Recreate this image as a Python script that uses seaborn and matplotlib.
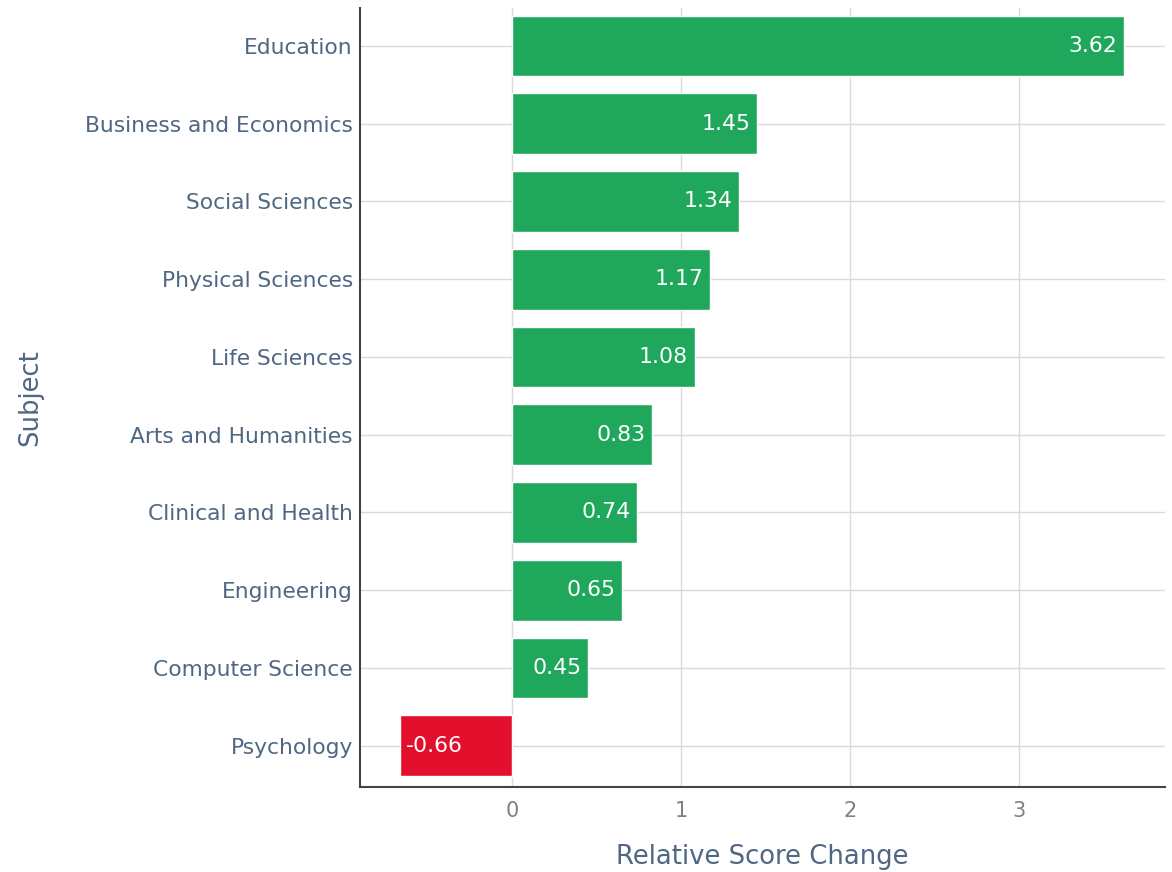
import numpy as np
import matplotlib.pyplot as plt
import pandas as pd
import seaborn as sns

subjects = ["Education", "Business and Economics", "Social Sciences", "Physical Sciences",
            "Life Sciences", "Arts and Humanities", "Clinical and Health", "Engineering",
            "Computer Science", "Psychology"]
changes = [3.62, 1.45, 1.34, 1.17, 1.08, 0.83, 0.74, 0.65, 0.45, -0.66]

df = pd.DataFrame({"Subject": subjects, "Relative Score Change": changes})
df["sign"] = np.where(df["Relative Score Change"] >= 0, "pos", "neg")

sns.set_style("white")
plt.rcParams["font.family"] = ["DejaVu Sans"]

fig = plt.figure(figsize=(11.72, 8.72), dpi=100)
ax = fig.add_axes([0.307, 0.0975, 0.687, 0.8935])

sns.barplot(data=df, x="Relative Score Change", y="Subject", hue="sign",
            palette={"pos": "#1fa85c", "neg": "#e2102c"}, orient="h", saturation=1,
            width=0.78, dodge=False, legend=False, ax=ax, zorder=3)

# value labels inside the end of each bar
for i, v in enumerate(changes):
    if v >= 0:
        ax.text(v - 0.04, i, f"{v:.2f}", ha="right", va="center", color="white", fontsize=15.8, zorder=4)
    else:
        ax.text(v + 0.03, i, f"{v:.2f}", ha="left", va="center", color="white", fontsize=15.8, zorder=4)

ax.set_xlim(-0.9, 3.86)
ax.set_ylim(9.53, -0.49)
ax.set_xticks([0, 1, 2, 3])
ax.grid(True, color="#dadada", linewidth=1, zorder=0)
ax.set_axisbelow(True)

for s in ["top", "right"]:
    ax.spines[s].set_visible(False)
for s in ["left", "bottom"]:
    ax.spines[s].set_color("#444444")
    ax.spines[s].set_linewidth(1.5)

ax.tick_params(axis="y", length=0, pad=5, labelsize=15.7, labelcolor="#506784")
ax.tick_params(axis="x", length=0, pad=10, labelsize=15, labelcolor="#808080")
ax.set_xlabel("Relative Score Change", fontsize=18.6, color="#506784", labelpad=17)
ax.set_ylabel("Subject", fontsize=18.6, color="#506784", labelpad=30)

fig.savefig("out.png", dpi=100)
